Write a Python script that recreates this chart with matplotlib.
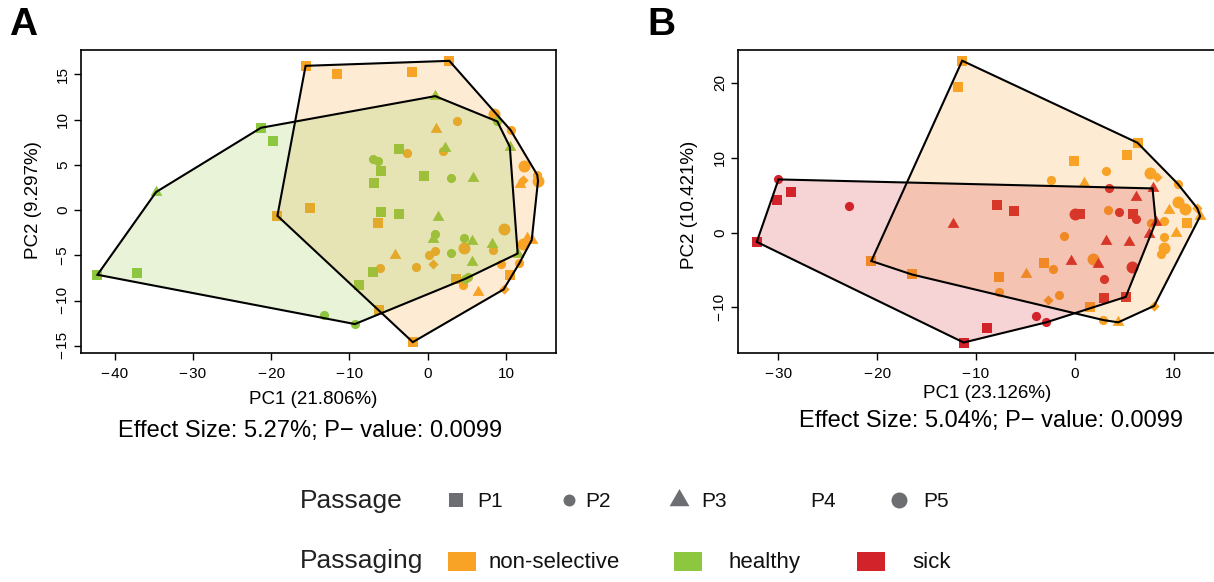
import matplotlib
matplotlib.use("Agg")
import matplotlib.pyplot as plt
from matplotlib.patches import Polygon, Rectangle
import numpy as np

plt.rcParams['font.family'] = ['Liberation Sans', 'DejaVu Sans']

# ---------------- data ----------------
# Panel A (PC1 21.806%, PC2 9.297%)
A_nonsel_pc1 = [-15.6, -11.6, -2.05, 2.77, -19.2, -15.0, -6.4, 3.58, 10.5, -6.2, -1.9,
                3.75, -2.6, 2.0, 10.6, 8.3, 0.93, 0.2, -1.5, -6.1, 9.4, 11.7, 4.55, 14.0,
                8.5, 12.3, 14.1, 9.7, 12.2, 4.6,
                1.06, 11.8, 12.7, 13.3, -4.2, 6.4,
                12.2, 0.64, 9.7]
A_nonsel_pc2 = [15.95, 15.1, 15.3, 16.5, -0.63, 0.26, -1.47, -7.66, -7.2, -11.0, -14.6,
                9.87, 6.33, 6.5, 8.84, -4.4, -4.5, -5.0, -6.26, -6.4, -5.97, -5.9, -8.29, 3.9,
                10.6, 4.86, 3.24, -2.1, -3.76, -4.2,
                9.0, 2.87, -3.1, -3.3, -5.0, -9.1,
                3.3, -6.0, -8.77]
A_nonsel_passage = ['P1'] * 11 + ['P2'] * 13 + ['P5'] * 6 + ['P3'] * 6 + ['P4'] * 3

A_healthy_pc1 = [-21.3, -19.8, -42.2, -37.1, -3.7, -6.0, -6.8, -0.5, -6.0, -3.7, -7.0, -8.8,
                 -7.0, -6.4, 3.0, 1.0, 4.7, 3.0, 5.2, 4.8, -13.2, -9.3, 8.9,
                 -34.7, 0.97, 2.2, 5.8, 10.5, 1.28, 0.72, 5.7, 8.2, 5.7, 11.5]
A_healthy_pc2 = [9.1, 7.66, -7.15, -7.0, 6.8, 4.35, 3.0, 3.8, -0.18, -0.48, -6.8, -8.3,
                 5.7, 5.4, 3.6, -2.65, -3.1, -4.7, -7.4, -7.6, -11.6, -12.6, 9.8,
                 2.0, 12.6, 6.9, 3.6, 7.0, -0.8, -3.2, -3.4, -3.76, -5.7, -4.8]
A_healthy_passage = ['P1'] * 12 + ['P2'] * 11 + ['P3'] * 11

# Panel B (PC1 23.126%, PC2 10.421%)
B_nonsel_pc1 = [-11.4, -11.8, 6.35, 5.26, -0.06, 11.4, -20.6, -16.5, -3.1, -7.66, 1.56,
                -2.44, 3.2, 10.4, 3.4, 10.6, 7.7, 9.05, 9.0, 8.75, -1.08, -2.17, -1.63, -7.7, 2.9,
                7.63, 10.5, 11.2, 9.05, 1.8,
                0.95, 9.5, 10.25, 12.7, -4.94, 4.4,
                8.3, -2.7, 8.04, 12.4]
B_nonsel_pc2 = [22.97, 19.5, 12.0, 10.3, 9.6, 1.25, -3.8, -5.6, -4.07, -5.9, -9.96,
                7.0, 8.2, 6.55, 3.0, 4.0, 1.3, 1.5, -0.58, -2.9, -0.5, -4.87, -8.4, -7.95, -11.7,
                8.0, 4.1, 3.2, -2.1, -3.5,
                6.56, 3.0, -0.1, 2.2, -5.6, -12.0,
                7.45, -9.06, -9.8, 3.25]
B_nonsel_passage = ['P1'] * 11 + ['P2'] * 14 + ['P5'] * 5 + ['P3'] * 6 + ['P4'] * 4

B_sick_pc1 = [-28.75, -30.2, -32.2, -7.86, -6.17, 0.5, 5.94, 3.0, 5.16, -8.9, -11.25,
              -30.0, -22.9, 3.46, 4.5, 6.2, 2.95, -3.97, -2.88,
              0.0, 5.77,
              -12.3, 7.87, 6.2, 7.47, 3.15, 5.5, -0.34, 2.4, 8.2]
B_sick_pc2 = [5.44, 4.32, -1.25, 3.74, 2.9, 2.54, 2.45, -8.7, -8.6, -12.7, -14.7,
              7.1, 3.52, 5.9, 2.7, 1.8, -6.16, -11.2, -12.0,
              2.45, -4.6,
              1.1, 5.9, 4.77, -0.2, -1.16, -1.2, -3.8, -4.15, 1.4]
B_sick_passage = ['P1'] * 11 + ['P2'] * 8 + ['P5'] * 2 + ['P3'] * 9

group_colors = {'non-selective': '#F8A226', 'healthy': '#8DC63F', 'sick': '#D2232A'}
passage_levels = ['P1', 'P2', 'P3', 'P4', 'P5']

# ---------------- styles ----------------
tri = [(-1, -0.577), (1, -0.577), (0, 1.155)]
marker_map = {'P1': ('s', 7.2), 'P2': ('o', 6.6), 'P3': (tri, 9.8), 'P4': ('D', 5.2), 'P5': ('o', 8.6)}

W, H = 1214, 582
fig = plt.figure(figsize=(W / 100, H / 100), dpi=100)


def hull(px, py):
    pts = sorted(set(zip(px, py)))
    def cross(o, a, b):
        return (a[0] - o[0]) * (b[1] - o[1]) - (a[1] - o[1]) * (b[0] - o[0])
    lower, upper = [], []
    for p in pts:
        while len(lower) >= 2 and cross(lower[-2], lower[-1], p) <= 0:
            lower.pop()
        lower.append(p)
    for p in reversed(pts):
        while len(upper) >= 2 and cross(upper[-2], upper[-1], p) <= 0:
            upper.pop()
        upper.append(p)
    return lower[:-1] + upper[:-1]


def fmt(t):
    return ('\u2212\u200a' + str(-t)) if t < 0 else str(t)


def panel(rect, groups, xlim, ylim, xticks, yticks):
    ax = fig.add_axes(rect)
    for name, px, py, pp in groups:
        px = np.asarray(px); py = np.asarray(py); pp = np.asarray(pp)
        for lev in passage_levels:
            m = pp == lev
            if m.any():
                mk, ms = marker_map[lev]
                ax.scatter(px[m], py[m], marker=mk, s=ms ** 2, color=group_colors[name],
                           linewidths=0, zorder=2)
    for name, px, py, pp in groups:
        hv = hull(px, py)
        ax.add_patch(Polygon(hv, closed=True, facecolor=group_colors[name], alpha=0.2,
                             edgecolor='none', zorder=3))
        ax.add_patch(Polygon(hv, closed=True, facecolor='none', edgecolor='black',
                             linewidth=1.5, zorder=4))
    ax.set_xlim(*xlim)
    ax.set_ylim(*ylim)
    ax.set_xticks(xticks)
    ax.set_yticks(yticks)
    ax.set_xticklabels([fmt(t) for t in xticks], fontsize=11)
    ax.set_yticklabels([fmt(t) for t in yticks], fontsize=11, rotation=90, va='center')
    ax.tick_params(axis='x', direction='out', length=5, width=1, pad=5)
    ax.tick_params(axis='y', direction='out', length=5, width=1, pad=3)
    for s in ax.spines.values():
        s.set_linewidth(1.2)
    return ax


def frac_rect(l, t, r, b):
    return [l / W, 1 - b / H, (r - l) / W, (b - t) / H]


panel(frac_rect(81, 50, 556, 353),
      [('non-selective', A_nonsel_pc1, A_nonsel_pc2, A_nonsel_passage),
       ('healthy', A_healthy_pc1, A_healthy_pc2, A_healthy_passage)],
      (-44.3, 16.4), (-15.8, 17.7), [-40, -30, -20, -10, 0, 10], [-15, -10, -5, 0, 5, 10, 15])

panel(frac_rect(738, 50, 1218, 353),
      [('non-selective', B_nonsel_pc1, B_nonsel_pc2, B_nonsel_passage),
       ('sick', B_sick_pc1, B_sick_pc2, B_sick_passage)],
      (-34.1, 14.5), (-16.1, 24.4), [-30, -20, -10, 0, 10], [-10, 0, 10, 20])

# ---------------- overlay: labels and legend ----------------
ov = fig.add_axes([0, 0, 1, 1], zorder=10)
ov.set_xlim(0, W)
ov.set_ylim(H, 0)
ov.axis('off')
ov.patch.set_alpha(0)

ov.text(9, 25, 'A', fontsize=28, fontweight='bold', ha='left', va='center')
ov.text(647, 25, 'B', fontsize=28, fontweight='bold', ha='left', va='center')

ov.text(313, 400, 'PC1 (21.806%)', fontsize=13.5, ha='center', va='center')
ov.text(310, 431, 'Effect Size: 5.27%; P\u2212 value: 0.0099', fontsize=17, ha='center', va='center')
ov.text(33, 200, 'PC2 (9.297%)', fontsize=13.5, ha='center', va='center', rotation=90)

ov.text(987, 394, 'PC1 (23.126%)', fontsize=13.5, ha='center', va='center')
ov.text(991, 421, 'Effect Size: 5.04%; P\u2212 value: 0.0099', fontsize=17, ha='center', va='center')
ov.text(690, 205, 'PC2 (10.421%)', fontsize=13.5, ha='center', va='center', rotation=90)

legend_gray = '#6D6E71'
ov.text(300, 508, 'Passage', fontsize=19, ha='left', va='baseline', color='#222222')
leg_markers = {'P1': ('s', 10.5), 'P2': ('o', 8.6), 'P3': (tri, 16.5), 'P4': (None, 0), 'P5': ('o', 11.5)}
leg_mx = [456, 569, 679, 790, 899]
leg_tx = [477, 585, 701, 810, 923]
for lev, mx, tx in zip(passage_levels, leg_mx, leg_tx):
    mk, ms = leg_markers[lev]
    if mk is not None:
        ov.scatter([mx], [500], marker=mk, s=ms ** 2, color=legend_gray, linewidths=0)
    ov.text(tx, 507, lev, fontsize=15, ha='left', va='baseline', color='#111111')

ov.text(300, 568, 'Passaging', fontsize=19, ha='left', va='baseline', color='#222222')
grp_names = ['non-selective', 'healthy', 'sick']
grp_rx = [448, 674, 857]
grp_tx = [489, 729, 912]
for g, rx, tx in zip(grp_names, grp_rx, grp_tx):
    ov.add_patch(Rectangle((rx, 552), 28, 19, facecolor=group_colors[g], edgecolor='none'))
    ov.text(tx, 568, g, fontsize=16, ha='left', va='baseline', color='#111111')

fig.savefig('out.png', dpi=100)
